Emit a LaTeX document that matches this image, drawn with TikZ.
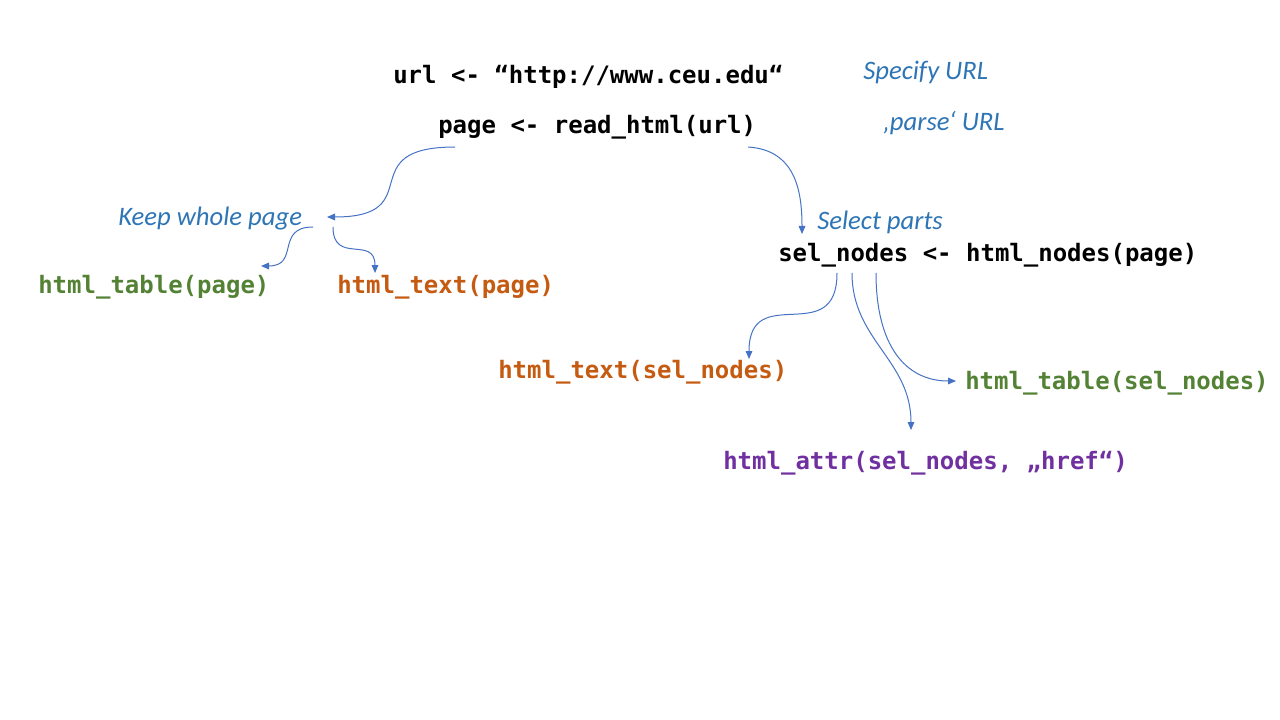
\documentclass[tikz,border=0pt]{standalone}
\usepackage{fontspec}
\setmainfont{Carlito}
\setmonofont{DejaVu Sans Mono}
\usetikzlibrary{arrows.meta}
\definecolor{codegreen}{HTML}{548235}
\definecolor{codeorange}{HTML}{C55A11}
\definecolor{codepurple}{HTML}{7030A0}
\definecolor{noteblue}{HTML}{2E75B6}
\definecolor{arrowblue}{HTML}{4472C4}

\begin{document}
\begin{tikzpicture}[x=0.75pt,y=-0.75pt]
\tikzset{anchor=base west}
\tikzset{code/.style={font=\fontsize{18}{20}\selectfont\ttfamily\bfseries, inner sep=0pt}}
\tikzset{note/.style={font=\fontsize{20}{22}\selectfont\itshape, text=noteblue, inner sep=0pt}}
\tikzset{flow/.style={draw=arrowblue, line width=0.75pt, -{Triangle[length=6pt,width=5pt]}}}
\useasboundingbox (0,0) rectangle (1280,720);

% code lines
\node[code] (url) at (393,84) {url <- “http://www.ceu.edu“};
\node[code] (page) at (438,134) {page <- read\_html(url)};
\node[code] (sel) at (778,262) {sel\_nodes <- html\_nodes(page)};
\node[code, text=codegreen] (tabpage) at (38,293) {html\_table(page)};
\node[code, text=codeorange] (txtpage) at (337,293) {html\_text(page)};
\node[code, text=codeorange] (txtsel) at (498,378) {html\_text(sel\_nodes)};
\node[code, text=codegreen] (tabsel) at (965,389) {html\_table(sel\_nodes)};
\node[code, text=codepurple] (attrsel) at (723,469) {html\_attr(sel\_nodes, „href“)};

% notes
\node[note] (specify) at (863,80) {Specify URL};
\node[note] (parse) at (883,131) {‚parse‘ URL};
\node[note] (keep) at (118,225) {Keep whole page};
\node[note] (select) at (817,229) {Select parts};

% arrow ends
\coordinate (pageL) at (455,147);
\coordinate (pageR) at (748,147);
\coordinate (keepIn) at (327,217);
\coordinate (keepL) at (313,227);
\coordinate (keepR) at (333,227);
\coordinate (tabpageIn) at (261,266);
\coordinate (txtpageIn) at (375,273);
\coordinate (selIn) at (802,234);
\coordinate (selA) at (837,273);
\coordinate (selB) at (852,273);
\coordinate (selC) at (876,273);
\coordinate (txtselIn) at (749,359);
\coordinate (attrselIn) at (911,430);
\coordinate (tabselIn) at (956,381);

\draw[flow] (pageL) .. controls (350,147) and (430,217) .. (keepIn);
\draw[flow] (keepL) .. controls (275,227) and (300,266) .. (tabpageIn);
\draw[flow] (keepR) .. controls (333,265) and (375,235) .. (txtpageIn);
\draw[flow] (pageR) .. controls (795,150) and (802,190) .. (selIn);
\draw[flow] (selA) .. controls (837,350) and (749,280) .. (txtselIn);
\draw[flow] (selB) .. controls (852,340) and (911,360) .. (attrselIn);
\draw[flow] (selC) .. controls (876,345) and (905,381) .. (tabselIn);
\end{tikzpicture}
\end{document}
